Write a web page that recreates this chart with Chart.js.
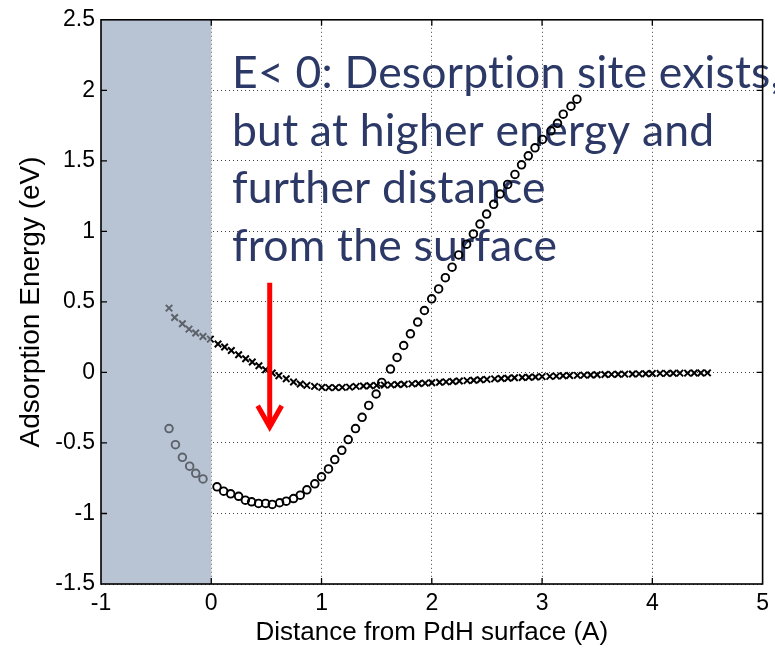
<!DOCTYPE html>
<html lang="en">
<head>
<meta charset="UTF-8">
<title>Adsorption Energy vs Distance</title>
<script src="https://cdn.jsdelivr.net/npm/chart.js@4.4.0/dist/chart.umd.min.js"></script>
<style>
  body { margin: 0; background: #fff; }
</style>
</head>
<body>
<canvas id="energyChart" width="775" height="648"></canvas>
<script>
// 'x' markers (flat curve)
const crossDist = [-0.383, -0.332, -0.262, -0.202, -0.141, -0.075, -0.008, 0.061, 0.121, 0.182,
  0.248, 0.312, 0.372, 0.432, 0.493, 0.553, 0.613, 0.680, 0.746, 0.807,
  0.867, 0.937, 1.003, 1.066, 1.127, 1.188, 1.254, 1.314, 1.38, 1.44,
  1.50, 1.57, 1.63, 1.69, 1.75, 1.82, 1.88, 1.94, 2.00, 2.07,
  2.13, 2.19, 2.25, 2.32, 2.38, 2.44, 2.50, 2.57, 2.63, 2.69,
  2.75, 2.82, 2.88, 2.94, 3.00, 3.07, 3.13, 3.19, 3.25, 3.32,
  3.38, 3.44, 3.50, 3.57, 3.63, 3.69, 3.75, 3.82, 3.88, 3.94,
  4.00, 4.07, 4.13, 4.19, 4.25, 4.32, 4.38, 4.44, 4.50];
const crossEnergy = [0.456, 0.389, 0.345, 0.307, 0.279, 0.255, 0.236, 0.201, 0.180, 0.156,
  0.125, 0.097, 0.074, 0.047, 0.019, -0.004, -0.023, -0.045, -0.068, -0.082,
  -0.092, -0.099, -0.106, -0.108, -0.108, -0.106, -0.104, -0.099, -0.096, -0.094,
  -0.092, -0.090, -0.088, -0.086, -0.084, -0.081, -0.079, -0.076, -0.073, -0.070,
  -0.067, -0.064, -0.061, -0.058, -0.055, -0.052, -0.049, -0.046, -0.043, -0.041,
  -0.038, -0.036, -0.034, -0.032, -0.030, -0.028, -0.026, -0.024, -0.022, -0.021,
  -0.019, -0.018, -0.016, -0.015, -0.014, -0.013, -0.012, -0.011, -0.010, -0.009,
  -0.008, -0.007, -0.007, -0.006, -0.005, -0.005, -0.004, -0.004, -0.003];

// 'o' markers (deep well)
const circleDist = [-0.383, -0.325, -0.262, -0.196, -0.141, -0.075, 0.052, 0.112, 0.176, 0.248,
  0.309, 0.366, 0.429, 0.493, 0.553, 0.620, 0.680, 0.746, 0.807, 0.867,
  0.939, 1.000, 1.063, 1.120, 1.184, 1.242, 1.308, 1.368, 1.428, 1.495,
  1.546, 1.625, 1.685, 1.745, 1.806, 1.872, 1.933, 1.999, 2.062, 2.123,
  2.184, 2.244, 2.316, 2.377, 2.437, 2.497, 2.561, 2.619, 2.688, 2.754,
  2.814, 2.875, 2.936, 3.004, 3.081, 3.140, 3.192, 3.262, 3.316];
const circleEnergy = [-0.398, -0.512, -0.602, -0.665, -0.715, -0.755, -0.811, -0.842, -0.861, -0.878,
  -0.906, -0.917, -0.929, -0.929, -0.936, -0.924, -0.913, -0.894, -0.870, -0.832,
  -0.790, -0.740, -0.684, -0.618, -0.552, -0.476, -0.398, -0.318, -0.234, -0.153,
  -0.071, 0.024, 0.106, 0.191, 0.274, 0.357, 0.439, 0.522, 0.592, 0.672,
  0.746, 0.833, 0.909, 0.982, 1.052, 1.123, 1.192, 1.265, 1.333, 1.404,
  1.472, 1.536, 1.592, 1.652, 1.713, 1.766, 1.831, 1.887, 1.937];

const xTicks = [-1, 0, 1, 2, 3, 4, 5];
const yTicks = [-1.5, -1, -0.5, 0, 0.5, 1, 1.5, 2, 2.5];

// shaded band (inside the surface)
const shadeFrom = -1;
const shadeTo = 0;

const noteLines = ['E< 0: Desorption site exists,', 'but at higher energy and', 'further distance', 'from the surface'];

// red arrow, in data units
const arrowX = 0.53;
const arrowTop = 0.635;
const arrowTip = -0.40;

Chart.defaults.font.family = '"Liberation Sans", Arial, sans-serif';
Chart.defaults.color = '#000';

function toPoints(xs, ys) {
  return xs.map((v, i) => ({ x: v, y: ys[i] }));
}

const decorPlugin = {
  id: 'decor',
  beforeDatasetsDraw(chart) {
    const { ctx, chartArea: a, scales: { x } } = chart;
    const x0 = x.getPixelForValue(shadeFrom);
    const x1 = x.getPixelForValue(shadeTo);
    ctx.save();
    ctx.fillStyle = '#b8c4d4';
    ctx.fillRect(x0, a.top, x1 - x0, a.bottom - a.top);

    // annotation text, sized so the second line is ~482px wide
    ctx.letterSpacing = '0.2px'; // keeps Lato from joining "ti"
    ctx.font = '48px Lato, "Noto Sans", sans-serif';
    const w = ctx.measureText(noteLines[1]).width;
    const size = 48 * 482 / w;
    ctx.font = size.toFixed(1) + 'px Lato, "Noto Sans", sans-serif';
    ctx.fillStyle = '#2c3966';
    ctx.textBaseline = 'alphabetic';
    noteLines.forEach((t, i) => ctx.fillText(t, 232, 88 + i * 57.7));
    ctx.restore();
  },
  afterDatasetsDraw(chart) {
    const { ctx, chartArea: a, scales: { x, y } } = chart;
    const x0 = x.getPixelForValue(shadeFrom);
    const x1 = x.getPixelForValue(shadeTo);
    ctx.save();
    // tint markers that sit over the shaded band
    ctx.fillStyle = 'rgba(184,196,212,0.5)';
    ctx.fillRect(x0, a.top, x1 - x0, a.bottom - a.top);

    // arrow
    const ax = x.getPixelForValue(arrowX);
    const top = y.getPixelForValue(arrowTop);
    const tip = y.getPixelForValue(arrowTip);
    ctx.strokeStyle = '#ff0000';
    ctx.lineWidth = 5;
    ctx.beginPath();
    ctx.moveTo(ax, top);
    ctx.lineTo(ax, tip - 2);
    ctx.stroke();
    ctx.beginPath();
    ctx.moveTo(ax - 12, tip - 23);
    ctx.lineTo(ax, tip - 2);
    ctx.lineTo(ax + 12, tip - 23);
    ctx.stroke();

    // axes box with inward ticks
    ctx.strokeStyle = '#000';
    ctx.lineWidth = 1.6;
    ctx.strokeRect(a.left, a.top, a.right - a.left, a.bottom - a.top);
    ctx.lineWidth = 1.3;
    ctx.beginPath();
    xTicks.slice(1, -1).forEach(v => {
      const p = x.getPixelForValue(v);
      ctx.moveTo(p, a.bottom); ctx.lineTo(p, a.bottom - 6);
      ctx.moveTo(p, a.top); ctx.lineTo(p, a.top + 6);
    });
    yTicks.slice(1, -1).forEach(v => {
      const p = y.getPixelForValue(v);
      ctx.moveTo(a.left, p); ctx.lineTo(a.left + 6, p);
      ctx.moveTo(a.right, p); ctx.lineTo(a.right - 6, p);
    });
    ctx.stroke();
    ctx.restore();
  }
};

const ctx = document.getElementById('energyChart');
new Chart(ctx, {
  type: 'scatter',
  data: {
    datasets: [
      {
        label: 'x',
        data: toPoints(crossDist, crossEnergy),
        pointStyle: 'crossRot',
        pointRadius: 4.6,
        borderWidth: 2,
        borderColor: '#000',
        backgroundColor: '#000',
        showLine: false
      },
      {
        label: 'o',
        data: toPoints(circleDist, circleEnergy),
        pointStyle: 'circle',
        pointRadius: 3.8,
        borderWidth: 1.9,
        borderColor: '#000',
        backgroundColor: 'rgba(0,0,0,0)',
        showLine: false
      }
    ]
  },
  options: {
    responsive: false,
    animation: false,
    layout: { padding: { top: 19, right: 12, left: 0, bottom: 0 } },
    plugins: { legend: { display: false }, tooltip: { enabled: false } },
    scales: {
      x: {
        type: 'linear',
        min: -1,
        max: 5,
        afterBuildTicks: s => { s.ticks = xTicks.map(v => ({ value: v })); },
        afterFit: s => { s.height = 64; },
        ticks: { autoSkip: false, maxRotation: 0, padding: 6, font: { size: 23 }, callback: v => String(v) },
        grid: { drawTicks: false, color: 'rgba(0,0,0,0.75)', lineWidth: 1 },
        border: { display: false, dash: [1, 3] },
        title: { display: true, text: 'Distance from PdH surface (A)', font: { size: 26 }, padding: { top: 0, bottom: 0 } }
      },
      y: {
        type: 'linear',
        min: -1.5,
        max: 2.5,
        afterBuildTicks: s => { s.ticks = yTicks.map(v => ({ value: v })); },
        afterFit: s => { s.width = 101; },
        ticks: { autoSkip: false, padding: 6, font: { size: 23 }, callback: v => String(v) },
        grid: { drawTicks: false, color: 'rgba(0,0,0,0.75)', lineWidth: 1 },
        border: { display: false, dash: [1, 3] },
        title: { display: true, text: 'Adsorption Energy (eV)', font: { size: 28 }, padding: { top: 14, bottom: 0 } }
      }
    }
  },
  plugins: [decorPlugin]
});
</script>
</body>
</html>
